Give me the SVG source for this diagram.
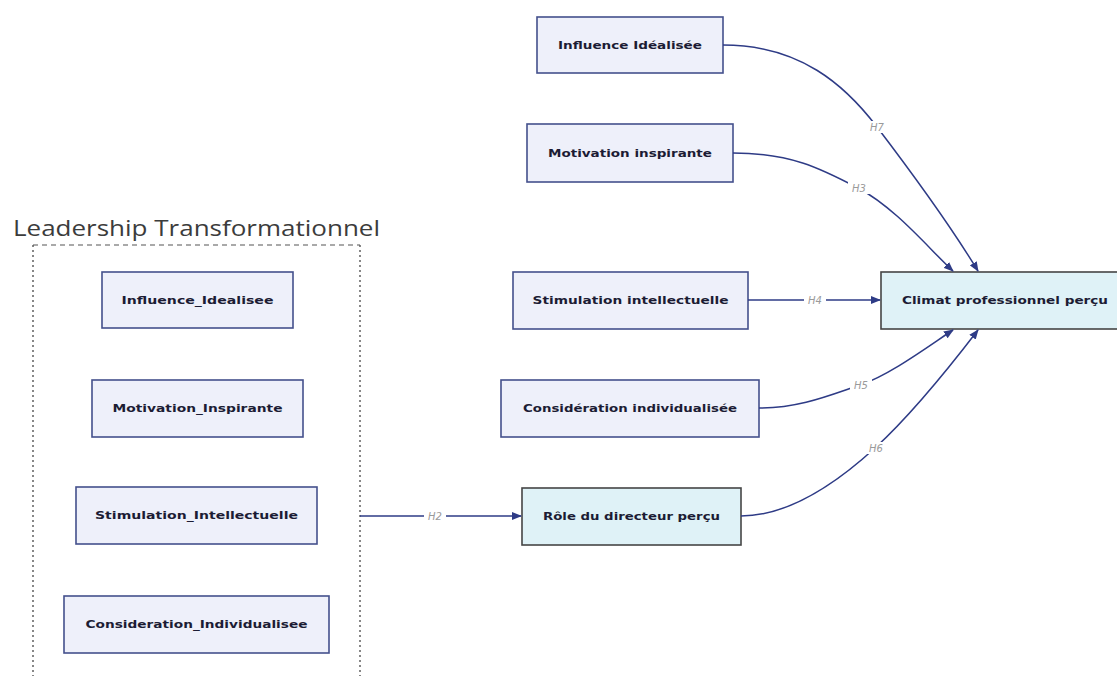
<svg xmlns="http://www.w3.org/2000/svg" width="1117" height="676" viewBox="0 0 1117 676">
<style>
.box{fill:#eef0fa;stroke:#44508c;stroke-width:1.6}
.out{fill:#dff2f7;stroke:#454545;stroke-width:1.6}
.lbl{font-family:"DejaVu Sans",sans-serif;font-weight:bold;font-size:11px;fill:#1c1c34;text-anchor:middle}
.edge{fill:none;stroke:#2e3b86;stroke-width:1.5}
.el{font-family:"DejaVu Sans",sans-serif;font-style:italic;font-size:10px;fill:#9a9a9a;text-anchor:middle}
.bg{fill:#ffffff}
.title{font-family:"Open Sans","DejaVu Sans",sans-serif;font-size:22px;fill:#3c3c3c}
</style>
<defs>
<marker id="arr" markerUnits="userSpaceOnUse" markerWidth="10" markerHeight="8" refX="9" refY="4" orient="auto">
<path d="M0,0 L10,4 L0,8 Z" fill="#2e3b86"/>
</marker>
</defs>
<rect width="1117" height="676" fill="#ffffff"/>
<g id="cluster">
<text class="title" x="13" y="236" textLength="367" lengthAdjust="spacingAndGlyphs">Leadership Transformationnel</text>
<line x1="33" y1="245" x2="360" y2="245" stroke="#555" stroke-width="1.2" stroke-dasharray="5,4"/>
<line x1="33" y1="245" x2="33" y2="676" stroke="#555" stroke-width="1.4" stroke-dasharray="2,3"/>
<line x1="360" y1="245" x2="360" y2="676" stroke="#555" stroke-width="1.4" stroke-dasharray="2,3"/>
</g>
<g id="n_influence_idealisee">
<rect class="box" x="102" y="272" width="191" height="56"/>
<text class="lbl" x="197.5" y="304" textLength="152" lengthAdjust="spacingAndGlyphs">Influence_Idealisee</text>
</g>
<g id="n_motivation_inspirante">
<rect class="box" x="92" y="380" width="211" height="57"/>
<text class="lbl" x="197.5" y="412" textLength="170" lengthAdjust="spacingAndGlyphs">Motivation_Inspirante</text>
</g>
<g id="n_stimulation_intellectuelle">
<rect class="box" x="76" y="487" width="241" height="57"/>
<text class="lbl" x="196.5" y="519" textLength="203" lengthAdjust="spacingAndGlyphs">Stimulation_Intellectuelle</text>
</g>
<g id="n_consideration_individualisee">
<rect class="box" x="64" y="596" width="265" height="57"/>
<text class="lbl" x="196.5" y="628" textLength="222" lengthAdjust="spacingAndGlyphs">Consideration_Individualisee</text>
</g>
<g id="n_influence">
<rect class="box" x="537" y="17" width="186" height="56"/>
<text class="lbl" x="630" y="49" textLength="144" lengthAdjust="spacingAndGlyphs">Influence Idéalisée</text>
</g>
<g id="n_motivation">
<rect class="box" x="527" y="124" width="206" height="58"/>
<text class="lbl" x="630" y="157" textLength="164" lengthAdjust="spacingAndGlyphs">Motivation inspirante</text>
</g>
<g id="n_stimulation">
<rect class="box" x="513" y="272" width="235" height="57"/>
<text class="lbl" x="630.5" y="304" textLength="196" lengthAdjust="spacingAndGlyphs">Stimulation intellectuelle</text>
</g>
<g id="n_consideration">
<rect class="box" x="501" y="380" width="258" height="57"/>
<text class="lbl" x="630" y="412" textLength="214" lengthAdjust="spacingAndGlyphs">Considération individualisée</text>
</g>
<g id="n_role">
<rect class="out" x="522" y="488" width="219" height="57"/>
<text class="lbl" x="631.5" y="520" textLength="177" lengthAdjust="spacingAndGlyphs">Rôle du directeur perçu</text>
</g>
<g id="n_climat">
<rect class="out" x="881" y="272" width="240" height="57"/>
<text class="lbl" x="1005" y="304" textLength="206" lengthAdjust="spacingAndGlyphs">Climat professionnel perçu</text>
</g>
<g id="connectors">
<path class="edge" d="M723,45 C800,45 845,85 877,127 S950,225 978,271" marker-end="url(#arr)"/>
<rect class="bg" x="866" y="121" width="22" height="12"/>
<text class="el" x="877" y="131">H7</text>
<path class="edge" d="M733,153 C790,153 820,168 858,188 S930,250 953,271" marker-end="url(#arr)"/>
<rect class="bg" x="848" y="182" width="22" height="12"/>
<text class="el" x="859" y="192">H3</text>
<path class="edge" d="M748,300 L880,300" marker-end="url(#arr)"/>
<rect class="bg" x="804" y="294" width="22" height="12"/>
<text class="el" x="815" y="304">H4</text>
<path class="edge" d="M759,408 C800,408 830,395 860,385 S930,345 953,330" marker-end="url(#arr)"/>
<rect class="bg" x="850" y="379" width="22" height="12"/>
<text class="el" x="861" y="389">H5</text>
<path class="edge" d="M741,516 C790,516 840,480 875,448 S955,360 978,330" marker-end="url(#arr)"/>
<rect class="bg" x="865" y="442" width="22" height="12"/>
<text class="el" x="876" y="452">H6</text>
<path class="edge" d="M360,516 L521,516" marker-end="url(#arr)"/>
<rect class="bg" x="424" y="510" width="22" height="12"/>
<text class="el" x="435" y="520">H2</text>
</g>
</svg>
